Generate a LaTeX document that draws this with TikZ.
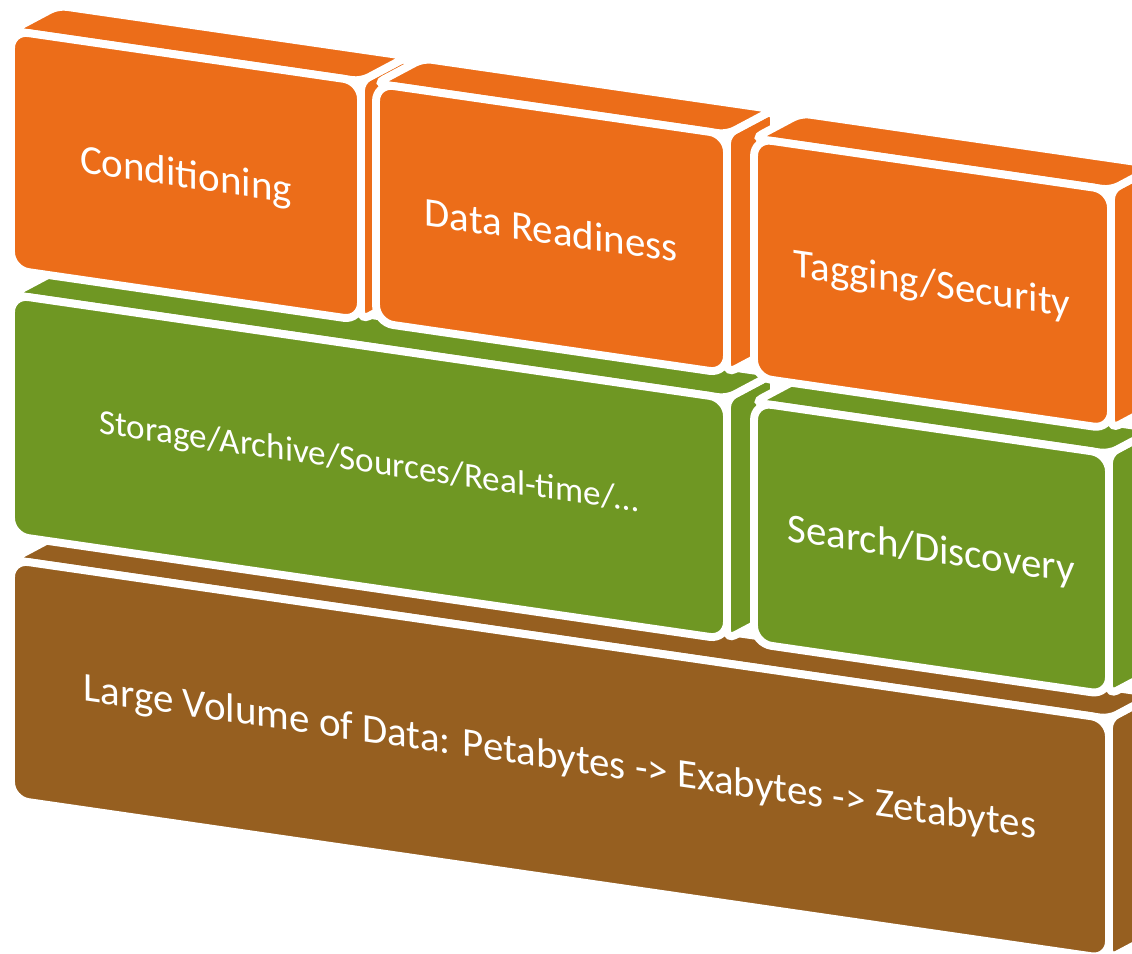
\documentclass[tikz,border=0pt]{standalone}
\usepackage{fontspec}
\setmainfont{Carlito}
\definecolor{brickorange}{HTML}{EC6D19}
\definecolor{brickgreen}{HTML}{6F9723}
\definecolor{brickbrown}{HTML}{965F20}

\begin{document}
\begin{tikzpicture}[
        x=0.02cm, y=-0.02cm,
        declare function = {
                DU = 47;
                DW = -31.8;
            },
        brickface/.style = {fill=#1, draw=white, line width=4.5pt, rounded corners=5pt},
        brickfront/.style = {fill=#1, draw=white, line width=4.5pt, rounded corners=10pt},
        bricktext/.style = {text=white, transform shape, font=\fontsize{23.3}{28}\selectfont},
    ]
    \useasboundingbox (0,0) rectangle (1132,953);
    \clip (0,0) rectangle (1132,953);
    \begin{scope}[yslant=-0.145]
        % bottom row first, then left to right
        \foreach \ua/\ub/\wa/\wb/\col in {11/1109/558/798/brickbrown, 11/727/293/534/brickgreen, 754/1109/293/534/brickgreen,
                11/361/29/268/brickorange, 376/727/29/268/brickorange, 754/1111/29/268/brickorange}{
                \draw[brickface=\col] (\ub,\wa) -- ++(DU,DW) -- ++(0,\wb-\wa) -- (\ub,\wb) -- cycle;
                \draw[brickface=\col] (\ua,\wa) -- ++(DU,DW) -- (\ub+DU,\wa+DW) -- (\ub,\wa) -- cycle;
                \draw[brickfront=\col] (\ua,\wa) rectangle (\ub,\wb);
            }
        \node[bricktext] (volume) at (560,678) {Large Volume of Data: Petabytes -> Exabytes -> Zetabytes};
        \node[bricktext, font=\fontsize{20}{24}\selectfont] (store) at (369,410) {Storage/Archive/Sources/Real-time/…};
        \node[bricktext] (search) at (931,416) {Search/Discovery};
        \node[bricktext] (cond) at (186,150) {Conditioning};
        \node[bricktext] (ready) at (551,150) {Data Readiness};
        \node[bricktext] (tag) at (932,151) {Tagging/Security};
    \end{scope}
\end{tikzpicture}
\end{document}
